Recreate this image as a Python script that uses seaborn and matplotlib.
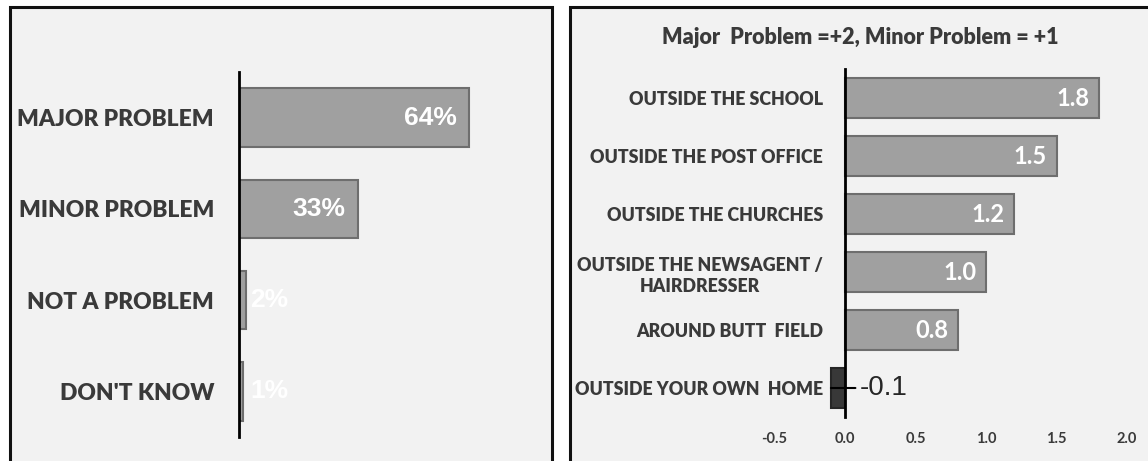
import matplotlib
matplotlib.use('Agg')
import matplotlib.pyplot as plt
from matplotlib.patches import Rectangle
import pandas as pd
import seaborn as sns

sns.set_theme(style='white')
plt.rcParams['font.family'] = ['Lato', 'DejaVu Sans']

# data
responses = ["MAJOR PROBLEM", "MINOR PROBLEM", "NOT A PROBLEM", "DON'T KNOW"]
response_pct = [64, 33, 2, 1]

locations = ["OUTSIDE THE SCHOOL", "OUTSIDE THE POST OFFICE", "OUTSIDE THE CHURCHES",
             "OUTSIDE THE NEWSAGENT /\nHAIRDRESSER", "AROUND BUTT  FIELD", "OUTSIDE YOUR OWN  HOME"]
location_scores = [1.8, 1.5, 1.2, 1.0, 0.8, -0.1]
score_ticks = [-0.5, 0.0, 0.5, 1.0, 1.5, 2.0]
score_title = "Major  Problem =+2, Minor Problem = +1"

W, H = 1148, 461
BAR = '#a0a0a0'
EDGE = '#6e6e6e'
NEG = '#383838'
TXT = '#3a3a3a'
PANEL = '#f2f2f2'
ARIAL = ['Liberation Sans', 'DejaVu Sans']

fig = plt.figure(figsize=(W / 100, H / 100), dpi=100, facecolor='white')

# panel boxes
for x0, x1 in [(10, 552), (570, 1160)]:
    fig.add_artist(Rectangle((x0 / W, -0.1), (x1 - x0) / W, 1.1 - 7 / H,
                             transform=fig.transFigure, facecolor=PANEL,
                             edgecolor='#111111', linewidth=2.2, zorder=0))

# ---- left: how big a problem
ax1 = fig.add_axes([239 / W, 1 - 437 / H, 288 / W, 365 / H])
ax1.set_facecolor('none')
df1 = pd.DataFrame({'response': responses, 'pct': response_pct})
sns.barplot(data=df1, y='response', x='pct', orient='h', color=BAR, saturation=1,
            edgecolor=EDGE, linewidth=1.5, width=0.64, ax=ax1)
ax1.set_xlim(0, 80)
ax1.set_ylim(3.5, -0.5)
ax1.set_xticks([])
ax1.set_xlabel('')
ax1.set_ylabel('')
for s in ['top', 'right', 'bottom']:
    ax1.spines[s].set_visible(False)
ax1.spines['left'].set_color('black')
ax1.spines['left'].set_linewidth(2)
ax1.tick_params(axis='y', length=0, pad=18, labelsize=16.4, labelcolor=TXT)
for lbl in ax1.get_yticklabels():
    lbl.set_fontweight('heavy')

for i, v in enumerate(response_pct):
    if v >= 10:
        ax1.annotate(f'{v}%', xy=(v, i), xytext=(-9, 0), textcoords='offset points',
                     ha='right', va='center', color='white', fontsize=19,
                     fontweight='bold', family=ARIAL)
    else:
        ax1.annotate(f'{v}%', xy=(0, i), xytext=(8, 0), textcoords='offset points',
                     ha='left', va='center', color='white', fontsize=19,
                     fontweight='bold', family=ARIAL)

# ---- right: score by location
ax2 = fig.add_axes([774.5 / W, 1 - 417 / H, 366.6 / W, 348 / H])
ax2.set_facecolor('none')
df2 = pd.DataFrame({'location': locations, 'score': location_scores})
colors = [BAR if v >= 0 else NEG for v in location_scores]
edges = [EDGE if v >= 0 else '#262626' for v in location_scores]
sns.barplot(data=df2, y='location', x='score', orient='h', hue='location',
            palette=colors, saturation=1, legend=False,
            linewidth=1.5, width=0.69, ax=ax2)
for p, ec in zip(ax2.patches, edges):
    p.set_edgecolor(ec)
ax2.set_xlim(-0.5, 2.1)
ax2.set_ylim(5.5, -0.5)
ax2.set_xticks(score_ticks)
ax2.set_xticklabels([f'{t:.1f}' for t in score_ticks])
ax2.set_xlabel('')
ax2.set_ylabel('')
for s in ['top', 'right', 'bottom']:
    ax2.spines[s].set_visible(False)
ax2.spines['left'].set_position(('data', 0))
ax2.spines['left'].set_color('black')
ax2.spines['left'].set_linewidth(2)
ax2.tick_params(axis='y', length=0, pad=16, labelsize=12.8, labelcolor=TXT)
ax2.tick_params(axis='x', length=0, pad=11, labelsize=10.5, labelcolor=TXT)
for lbl in ax2.get_yticklabels():
    lbl.set_fontweight('heavy')
    lbl.set_multialignment('center')
    lbl.set_linespacing(1.3)
for lbl in ax2.get_xticklabels():
    lbl.set_fontweight('bold')

for i, v in enumerate(location_scores):
    if v >= 0:
        ax2.annotate(f'{v:.1f}', xy=(v, i), xytext=(-7, 0), textcoords='offset points',
                     ha='right', va='center', color='white', fontsize=17,
                     fontweight='bold')
    else:
        ax2.annotate(f'{v:.1f}', xy=(v, i), xytext=(21, 0), textcoords='offset points',
                     ha='left', va='center', color='#262626', fontsize=20,
                     family=['Liberation Sans Narrow', 'Liberation Sans'],
                     arrowprops=dict(arrowstyle='-', color='black', lw=1.5,
                                     shrinkA=1, shrinkB=0))

fig.text(860 / W, 1 - 37 / H, score_title, ha='center', va='center',
         fontsize=15.5, fontweight='heavy', color=TXT)

fig.savefig('out.png', dpi=100)
